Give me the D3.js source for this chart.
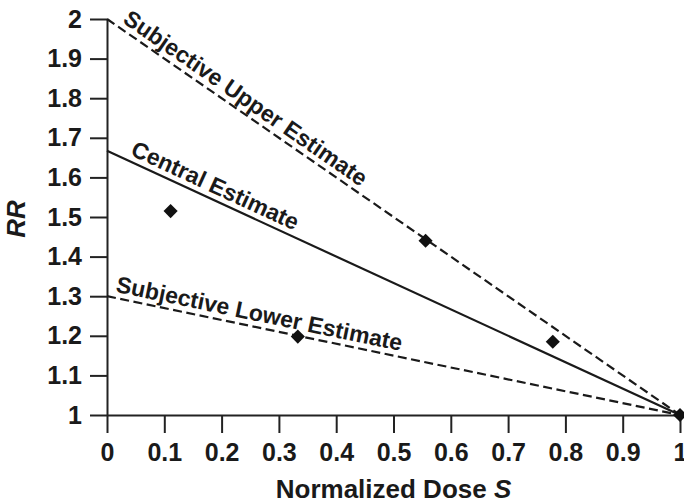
<!DOCTYPE html>
<html>
<head>
<meta charset="utf-8">
<script src="https://cdn.jsdelivr.net/npm/d3@7"></script>
<style>
  body { margin: 0; background: #fff; }
  svg { display: block; font-family: "Liberation Sans", Arial, sans-serif; }
  .tick text { font-size: 25px; font-weight: bold; fill: #1a1a1a; }
  .tick line, .domain { stroke: #222; stroke-width: 2; }
  .axis-title { font-size: 26px; font-weight: bold; fill: #1a1a1a; }
  .line-label { font-size: 23px; font-weight: bold; fill: #1a1a1a; }
</style>
</head>
<body>
<svg id="chart"></svg>
<script>
// estimate lines: each runs from (0, intercept) down to (1, 1)
const lineNames = ["Subjective Upper Estimate", "Central Estimate", "Subjective Lower Estimate"];
const lineIntercepts = [2.0, 1.667, 1.3];
const lineEnd = [1, 1];

// observed points
const pointX = [0.111, 0.333, 0.556, 0.778, 1.0];
const pointY = [1.515, 1.198, 1.44, 1.185, 1.0];

const xTicks = [0, 0.1, 0.2, 0.3, 0.4, 0.5, 0.6, 0.7, 0.8, 0.9, 1];
const yTicks = [1, 1.1, 1.2, 1.3, 1.4, 1.5, 1.6, 1.7, 1.8, 1.9, 2];

const width = 684;
const height = 504;
const margin = { top: 19, right: 4, bottom: 89, left: 107 };

const svg = d3.select("#chart")
    .attr("width", width)
    .attr("height", height);

const x = d3.scaleLinear()
    .domain([0, 1])
    .range([margin.left, width - margin.right]);

const y = d3.scaleLinear()
    .domain([1, 2])
    .range([height - margin.bottom, margin.top]);

const fmt = d => String(+d.toFixed(1));

svg.append("g")
    .attr("transform", `translate(0,${y(1)})`)
    .call(d3.axisBottom(x).tickValues(xTicks).tickFormat(fmt).tickSize(18).tickSizeOuter(0).tickPadding(10));

svg.append("g")
    .attr("transform", `translate(${x(0)},0)`)
    .call(d3.axisLeft(y).tickValues(yTicks).tickFormat(fmt).tickSize(17).tickSizeOuter(0).tickPadding(8));

svg.selectAll(".tick text").attr("font-family", null).attr("font-size", null);

// lines
const dashes = ["9,4.5", null, "9,4.5"];
lineNames.forEach(function(name, i) {
    svg.append("line")
        .attr("x1", x(0))
        .attr("y1", y(lineIntercepts[i]))
        .attr("x2", x(lineEnd[0]))
        .attr("y2", y(lineEnd[1]))
        .attr("stroke", "#1a1a1a")
        .attr("stroke-width", 2.2)
        .attr("stroke-dasharray", dashes[i]);
});

// labels along the lines
const labelStart = [0.02, 0.035, 0.012];
const labelOffset = [-6, -6, -6];
lineNames.forEach(function(name, i) {
    const x0 = x(0), y0 = y(lineIntercepts[i]);
    const x1 = x(lineEnd[0]), y1 = y(lineEnd[1]);
    const angle = Math.atan2(y1 - y0, x1 - x0) * 180 / Math.PI;
    const t = labelStart[i];
    const px = x0 + (x1 - x0) * t;
    const py = y0 + (y1 - y0) * t;
    svg.append("text")
        .attr("class", "line-label")
        .attr("transform", `translate(${px},${py}) rotate(${angle})`)
        .attr("y", labelOffset[i])
        .text(name);
});

// diamonds
svg.selectAll(".pt")
    .data(pointX.map((d, i) => [d, pointY[i]]))
    .enter()
    .append("path")
    .attr("class", "pt")
    .attr("d", d3.symbol(d3.symbolSquare, 100))
    .attr("transform", d => `translate(${x(d[0])},${y(d[1])}) rotate(45)`)
    .attr("fill", "#111");

// axis titles
const xt = svg.append("text")
    .attr("class", "axis-title")
    .attr("x", (x(0) + x(1)) / 2)
    .attr("y", 498)
    .attr("text-anchor", "middle");
xt.append("tspan").text("Normalized Dose ");
xt.append("tspan").attr("font-style", "italic").text("S");

svg.append("text")
    .attr("class", "axis-title")
    .attr("transform", `translate(25,219) rotate(-90)`)
    .attr("text-anchor", "middle")
    .attr("font-style", "italic")
    .text("RR");
</script>
</body>
</html>
